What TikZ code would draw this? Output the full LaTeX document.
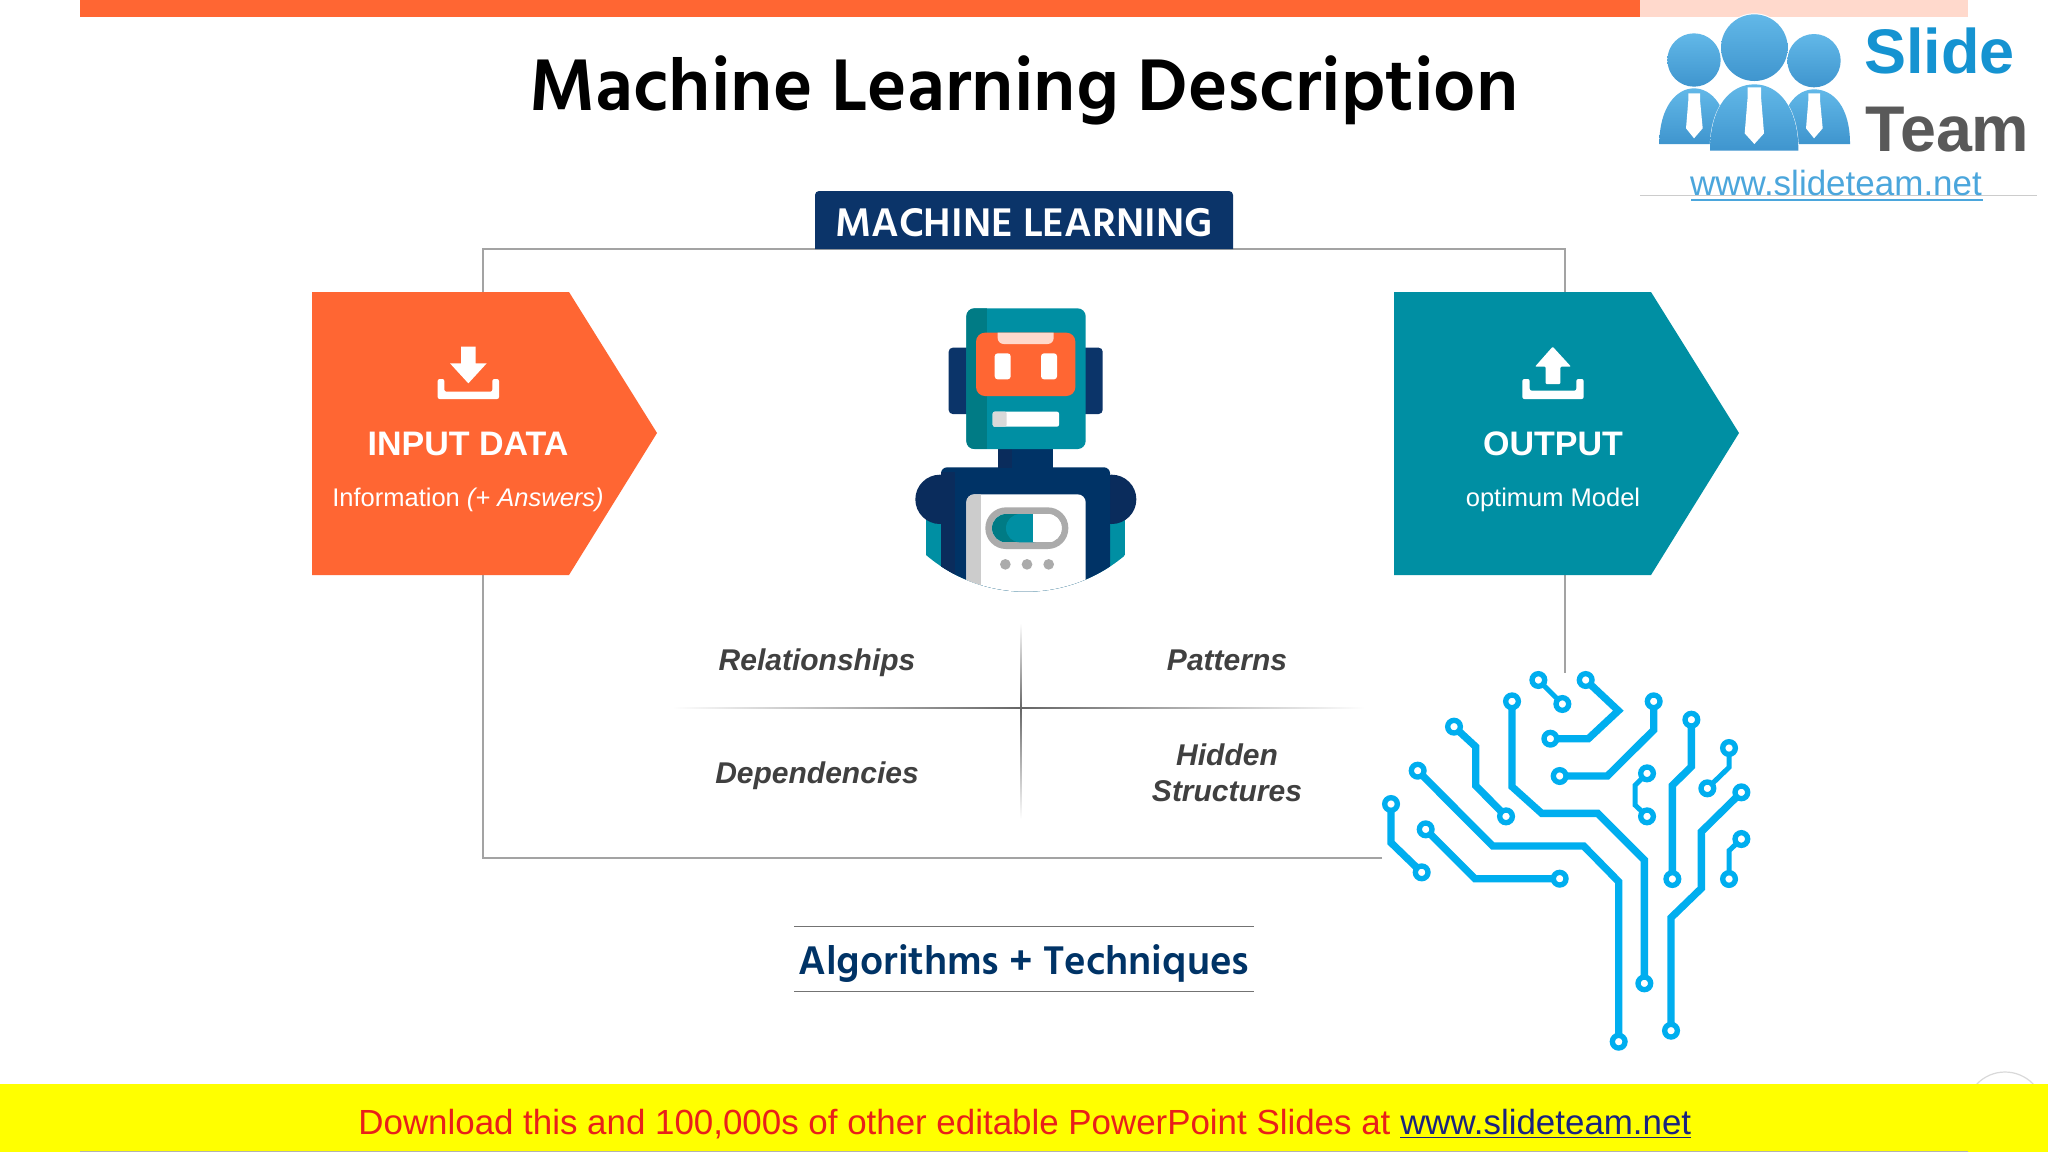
\documentclass[tikz,border=0pt]{standalone}
\usepackage{fontspec}
\setmainfont{Liberation Sans}
\newfontfamily\hindf{Hind Madurai}
\usetikzlibrary{calc}
\definecolor{orng}{HTML}{FF6633}
\definecolor{teal2}{HTML}{008FA3}
\definecolor{teald}{HTML}{007B85}
\definecolor{navy}{HTML}{003366}
\definecolor{navyd}{HTML}{0A2C5C}
\definecolor{navyt}{HTML}{0B3469}
\definecolor{circ}{HTML}{00AEEF}
\definecolor{frameg}{HTML}{A3A3A3}
\definecolor{logob}{HTML}{4BA6DC}
\definecolor{logot}{HTML}{62B8E8}
\definecolor{logol}{HTML}{3F95CE}
\definecolor{slidec}{HTML}{1593D1}
\definecolor{yel}{RGB}{255,255,0}
\definecolor{fred}{HTML}{E8201A}
\definecolor{fblue}{HTML}{1A237E}
\tikzset{
  px/.style={x=0.5pt,y=-0.5pt},
  zoomed/.style={x=0.16667pt,y=-0.16667pt},
  framel/.style={draw=frameg,line width=1pt},
  trace/.style={draw=circ,line width=3.65pt,line join=miter},
  thintrace/.style={draw=circ,line width=2.5pt,line join=miter},
  pad/.style={draw=circ,fill=white,line width=2.67pt},
  person/.style={top color=logot,bottom color=logol},
  lbl/.style={font=\fontsize{15}{18}\selectfont\bfseries\itshape,text=black!75,align=center},
  head/.style={font=\fontsize{17}{20}\selectfont\bfseries,text=white},
  sub/.style={font=\fontsize{12.75}{15}\selectfont,text=white}
}
\begin{document}
\begin{tikzpicture}[px]
\useasboundingbox (0,0) rectangle (2048,1152);
\fill[white] (0,0) rectangle (2048,1152);
% top bars
\fill[orng] (80,0) rectangle (1640,17);
\fill[orng!25] (1640,0) rectangle (1968,17);
% title
\node[font=\hindf\fontsize{37.5}{42}\selectfont\bfseries,text=black] (title) at (1024,90) {Machine Learning Description};
% frame
\draw[framel] (1382,858) -- (483,858) -- (483,249) -- (1565,249) -- (1565,673);
% header tag
\fill[navyt] (815,249) [rounded corners=2pt]-- (815,191) -- (1233,191) [sharp corners]-- (1233,249) -- cycle;
\node[font=\hindf\fontsize{20.5}{24}\selectfont\bfseries,text=white] (tag) at (1024,223) {MACHINE LEARNING};
% chevrons
\fill[orng] (312,292) -- (569,292) -- (657,433) -- (569,575) -- (312,575) -- cycle;
\fill[teal2] (1394,292) -- (1651,292) -- (1739,433) -- (1651,575) -- (1394,575) -- cycle;
\node[head] (inp) at (468,444) {INPUT DATA};
\node[sub] (inps) at (468,500) {Information \textit{(+ Answers)}};
\node[head] (out) at (1553,444) {OUTPUT};
\node[sub] (outs) at (1553,500) {optimum Model};
% download icon
\begin{scope}[shift={(300,280)},zoomed]
\fill[white] (483,200) -- (527,200) -- (527,250) -- (560,250) -- (505,310) -- (450,250) -- (483,250) -- cycle;
\fill[white,rounded corners=1pt] (413,297) -- (433,297) -- (433,335) -- (577,335) -- (577,297) -- (597,297) -- (597,357) -- (413,357) -- cycle;
\end{scope}
% upload icon
\begin{scope}[shift={(1400,300)},zoomed]
\fill[white,rounded corners=0.5pt] (458,140) -- (513,200) -- (481,200) -- (481,252) -- (437,252) -- (437,200) -- (405,200) -- cycle;
\fill[white,rounded corners=1pt] (367,237) -- (389,237) -- (389,272) -- (529,272) -- (529,237) -- (551,237) -- (551,297) -- (367,297) -- cycle;
\end{scope}
% robot
\begin{scope}[shift={(890,290)},zoomed]
\fill[navyt,rounded corners=2pt] (176,173) rectangle (638,372);
\begin{scope}
\clip (407,444) circle[radius=461];
\fill[teal2] (108,680) rectangle (706,905);
\fill[navyd] (150,628) circle[radius=74];
\fill[navyd] (665,628) circle[radius=74];
\fill[navy,rounded corners=3pt] (153,532) rectangle (660,950);
\fill[navyd] (153,545) rectangle (195,950);
\fill[white,rounded corners=4pt] (229,613) rectangle (587,960);
\begin{scope}
\clip[rounded corners=4pt] (229,613) rectangle (587,960);
\fill[black!20] (229,613) rectangle (272,960);
\end{scope}
\end{scope}
\fill[navy] (325,470) rectangle (490,533);
\fill[navyd] (325,470) rectangle (365,533);
\fill[teal2,rounded corners=4pt] (229,55) rectangle (587,477);
\begin{scope}
\clip[rounded corners=4pt] (229,55) rectangle (587,477);
\fill[teald] (229,55) rectangle (290,477);
\end{scope}
\fill[orng,rounded corners=4.5pt] (258,128) rectangle (556,318);
\fill[orng!25] (323,128) -- (491,128) [rounded corners=3pt]-- (491,162) -- (323,162) [sharp corners]-- cycle;
\fill[white,rounded corners=1.5pt] (314,190) rectangle (362,268);
\fill[white,rounded corners=1.5pt] (453,190) rectangle (501,268);
\fill[white,rounded corners=1pt] (308,365) rectangle (507,410);
\fill[black!15,rounded corners=1pt] (308,365) -- (350,365) -- (350,410) -- (308,410) -- cycle;
% switch
\fill[black!33,rounded corners=10.3pt] (286,652) rectangle (535,777);
\begin{scope}
\clip[rounded corners=7pt] (306,672) rectangle (515,757);
\fill[white] (306,672) rectangle (515,757);
\fill[teald] (306,672) rectangle (430,757);
\fill[teal2,rounded corners=7pt] (348,672) rectangle (470,757);
\fill[white] (430,672) rectangle (515,757);
\end{scope}
\foreach \xx in {346,411,476}{\fill[black!33] (\xx,823) circle[radius=16];}
\end{scope}
% quadrant lines
\shade[left color=white,right color=black!60] (672,707.5) rectangle (1021,708.5);
\shade[left color=black!60,right color=white] (1021,707.5) rectangle (1365,708.5);
\shade[top color=white,bottom color=black!60] (1020.5,623) rectangle (1021.5,708);
\shade[top color=black!60,bottom color=white] (1020.5,708) rectangle (1021.5,819);
\node[lbl,anchor=base] (rel) at (817,670) {Relationships};
\node[lbl,anchor=base] (pat) at (1227,670) {Patterns};
\node[lbl,anchor=base] (dep) at (817,783) {Dependencies};
\node[lbl] (hid) at (1227,773) {Hidden\\Structures};
% algorithms
\draw[black!55,line width=0.5pt] (794,926) -- (1254,926);
\draw[black!55,line width=0.5pt] (794,991) -- (1254,991);
\node[font=\hindf\fontsize{20.5}{24}\selectfont\bfseries,text=navy] (alg) at (1024,963) {Algorithms + Techniques};
% circuit tree
\begin{scope}[shift={(1350,640)},zoomed]
\draw[thintrace] (565,120) -- (637,192);
\draw[trace] (707,120) -- (805,212) -- (715,296) -- (601,296);
\draw[trace] (911,184) -- (911,270) -- (772,408) -- (629,408);
\draw[trace] (1024,239) -- (1024,380) -- (967,436) -- (967,717);
\draw[thintrace] (1137,324) -- (1137,382) -- (1072,445);
\draw[thintrace] (891,400) -- (855,436) -- (855,495) -- (891,529);
\draw[trace] (1174,457) -- (1054,575) -- (1054,745) -- (963,833) -- (963,1172);
\draw[thintrace] (1174,597) -- (1137,632) -- (1137,717);
\draw[trace] (486,184) -- (486,440) -- (575,520) -- (743,520) -- (883,660) -- (883,1030);
\draw[trace] (312,260) -- (377,320) -- (377,437) -- (468,529);
\draw[trace] (203,392) -- (428,618) -- (701,618) -- (806,725) -- (806,1205);
\draw[trace] (123,492) -- (123,608) -- (215,697);
\draw[trace] (227,568) -- (375,716) -- (629,716);
\foreach \u/\v in {565/120,637/192,707/120,601/296,911/184,629/408,1024/239,967/717,1137/324,1072/445,891/400,891/529,1174/457,963/1172,1174/597,1137/717,486/184,883/1030,312/260,468/529,203/392,806/1205,123/492,215/697,227/568,629/716}{
  \draw[pad] (\u,\v) circle[radius=19];
}
\end{scope}
% logo
\fill[white] (1640,17) rectangle (2035,195);
\draw[black!20,line width=0.4pt] (1640,195) -- (2037,195);
\begin{scope}[shift={(1620,0)},zoomed]
\shade[person] (222,180) circle[radius=80];
\shade[person] (582,182) circle[radius=80];
\shade[person] (118,432) .. controls (118,320) and (170,265) .. (222,265) .. controls (275,265) and (325,320) .. (325,432) -- cycle;
\shade[person] (480,432) .. controls (480,320) and (530,268) .. (582,268) .. controls (640,268) and (690,320) .. (690,432) -- cycle;
\fill[white] (205,280) -- (240,280) -- (240,300) -- (248,385) -- (222,415) -- (198,385) -- (205,300) -- cycle;
\fill[white] (565,280) -- (600,280) -- (600,300) -- (608,385) -- (582,415) -- (558,385) -- (565,300) -- cycle;
\fill[white] (403,143) circle[radius=103];
\shade[person] (403,143) circle[radius=100];
\draw[white,line width=0.4pt] (270,452) .. controls (270,320) and (330,253) .. (403,253) .. controls (475,253) and (535,320) .. (535,452) -- cycle;
\shade[person] (270,452) .. controls (270,320) and (330,253) .. (403,253) .. controls (475,253) and (535,320) .. (535,452) -- cycle;
\fill[white] (383,262) -- (423,262) -- (423,290) -- (432,400) -- (403,432) -- (374,400) -- (383,290) -- cycle;
\end{scope}
\node[font=\fontsize{31.5}{34}\selectfont\bfseries,anchor=west,inner sep=0pt,text=slidec] (slide) at (1864,51) {Slide};
\node[font=\fontsize{32.3}{34}\selectfont\bfseries,text=black!65,anchor=west,inner sep=0pt] (team) at (1865,130) {Team};
\node[font=\fontsize{17.5}{20}\selectfont,text=logob,inner sep=0pt] (url) at (1836,183) {www.slideteam.net};
\draw[logob,line width=0.6pt] (1691,200) -- (1983,200);
% faint round mark behind the bar
\draw[black!15,line width=0.6pt] (2005,1111) circle[radius=39];
% bottom bar
\fill[yel] (0,1084) rectangle (2048,1152);
\draw[black!30,line width=0.5pt] (80,1151.5) -- (1968,1151.5);
\node[font=\fontsize{17.45}{20}\selectfont,inner sep=0pt,anchor=west] (foot) at (358,1124) {\textcolor{fred}{Download this and 100,000s of other editable PowerPoint Slides at }\textcolor{fblue}{www.slideteam.net}};
\draw[fblue,line width=0.5pt] (1400,1137) -- (1691,1137);
\end{tikzpicture}
\end{document}
